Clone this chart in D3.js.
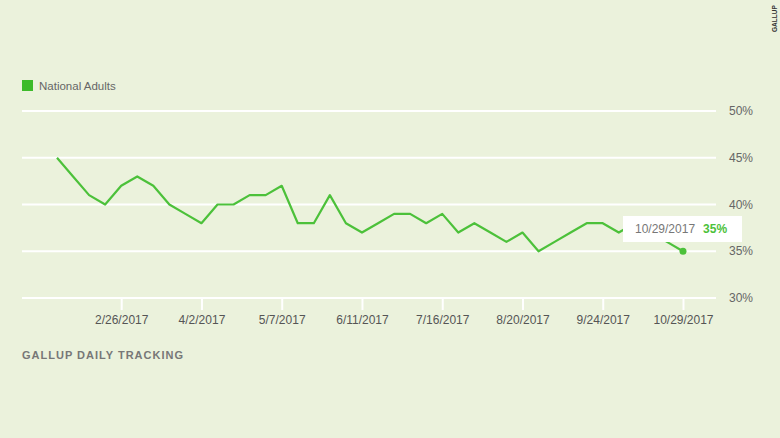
<!DOCTYPE html>
<html><head><meta charset="utf-8">
<script src="https://cdn.jsdelivr.net/npm/d3@7"></script>
<style>
html,body{margin:0;padding:0;background:#ebf2dc;}
svg{display:block;font-family:"Helvetica Neue",Helvetica,"Liberation Sans",Arial,sans-serif;}
</style></head><body>
<svg id="c" width="780" height="438"></svg>
<script>
const startDate = "2017-01-29";
const approval = [45,43,41,40,42,43,42,40,39,38,40,40,41,41,42,38,38,41,38,37,38,39,39,38,39,37,38,37,36,37,35,36,37,38,38,37,38,37,36,35];
const yTicks = [30,35,40,45,50];
const xTickLabels = ["2/26/2017","4/2/2017","5/7/2017","6/11/2017","7/16/2017","8/20/2017","9/24/2017","10/29/2017"];
const seriesName = "National Adults";
const tooltipDate = "10/29/2017";
const tooltipValue = "35%";

const parse = d3.timeParse("%Y-%m-%d");
const parseTick = d3.timeParse("%m/%d/%Y");
const t0 = parse(startDate);
const data = approval.map((v,i)=>({date:d3.timeDay.offset(t0, i*7), value:v}));

const svg = d3.select("#c");
const green = "#4cc13a";
const x = d3.scaleTime().domain([data[0].date, data[data.length-1].date]).range([57, 683]);
const y = d3.scaleLinear().domain([30,50]).range([298,111]);

// gridlines
svg.append("g").selectAll("line").data(yTicks).join("line")
  .attr("x1",22).attr("x2",716).attr("y1",d=>y(d)).attr("y2",d=>y(d))
  .attr("stroke","#fff").attr("stroke-width",2);

// y labels
svg.append("g").selectAll("text").data(yTicks).join("text")
  .attr("x",729).attr("y",d=>y(d)).attr("dy","0.35em")
  .attr("font-size",12).attr("fill","#666").text(d=>d+"%");

// x axis ticks
const tickDates = xTickLabels.map(parseTick);
const xAxis = d3.axisBottom(x).tickValues(tickDates).tickFormat(d3.timeFormat("%-m/%-d/%Y")).tickSize(12).tickPadding(5);
const gx = svg.append("g").attr("transform",`translate(0,${y(30)})`).call(xAxis);
gx.select(".domain").remove();
gx.selectAll(".tick line").attr("stroke","#fff").attr("stroke-width",2);
gx.selectAll(".tick text").attr("font-size",12).attr("fill","#555").attr("font-family",null);

// line
const line = d3.line().x(d=>x(d.date)).y(d=>y(d.value));
svg.append("path").datum(data).attr("d",line).attr("fill","none")
  .attr("stroke",green).attr("stroke-width",2.2).attr("stroke-linejoin","round");

// last point
const last = data[data.length-1];
svg.append("circle").attr("cx",x(last.date)).attr("cy",y(last.value)).attr("r",3.5).attr("fill",green);

// tooltip
svg.append("rect").attr("x",623).attr("y",216).attr("width",119).attr("height",26).attr("fill","#fff");
const tt = svg.append("text").attr("x",635).attr("y",233).attr("font-size",12);
tt.append("tspan").attr("fill","#777").text(tooltipDate);
tt.append("tspan").attr("dx",8).attr("fill",green).attr("font-weight","bold").text(tooltipValue);

// legend
svg.append("rect").attr("x",22).attr("y",80).attr("width",11).attr("height",11).attr("fill","#3dbb2a");
svg.append("text").attr("x",39).attr("y",86).attr("dy","0.35em").attr("font-size",11.5).attr("fill","#666").text(seriesName);

// footer
svg.append("text").attr("x",22).attr("y",359).attr("font-size",11).attr("font-weight","bold")
  .attr("letter-spacing",1).attr("fill","#777").text("GALLUP DAILY TRACKING");

// watermark
svg.append("text").attr("transform","translate(777,32) rotate(-90)").attr("font-size",6.5)
  .attr("font-weight","bold").attr("fill","#333").text("GALLUP");
</script>
</body></html>
